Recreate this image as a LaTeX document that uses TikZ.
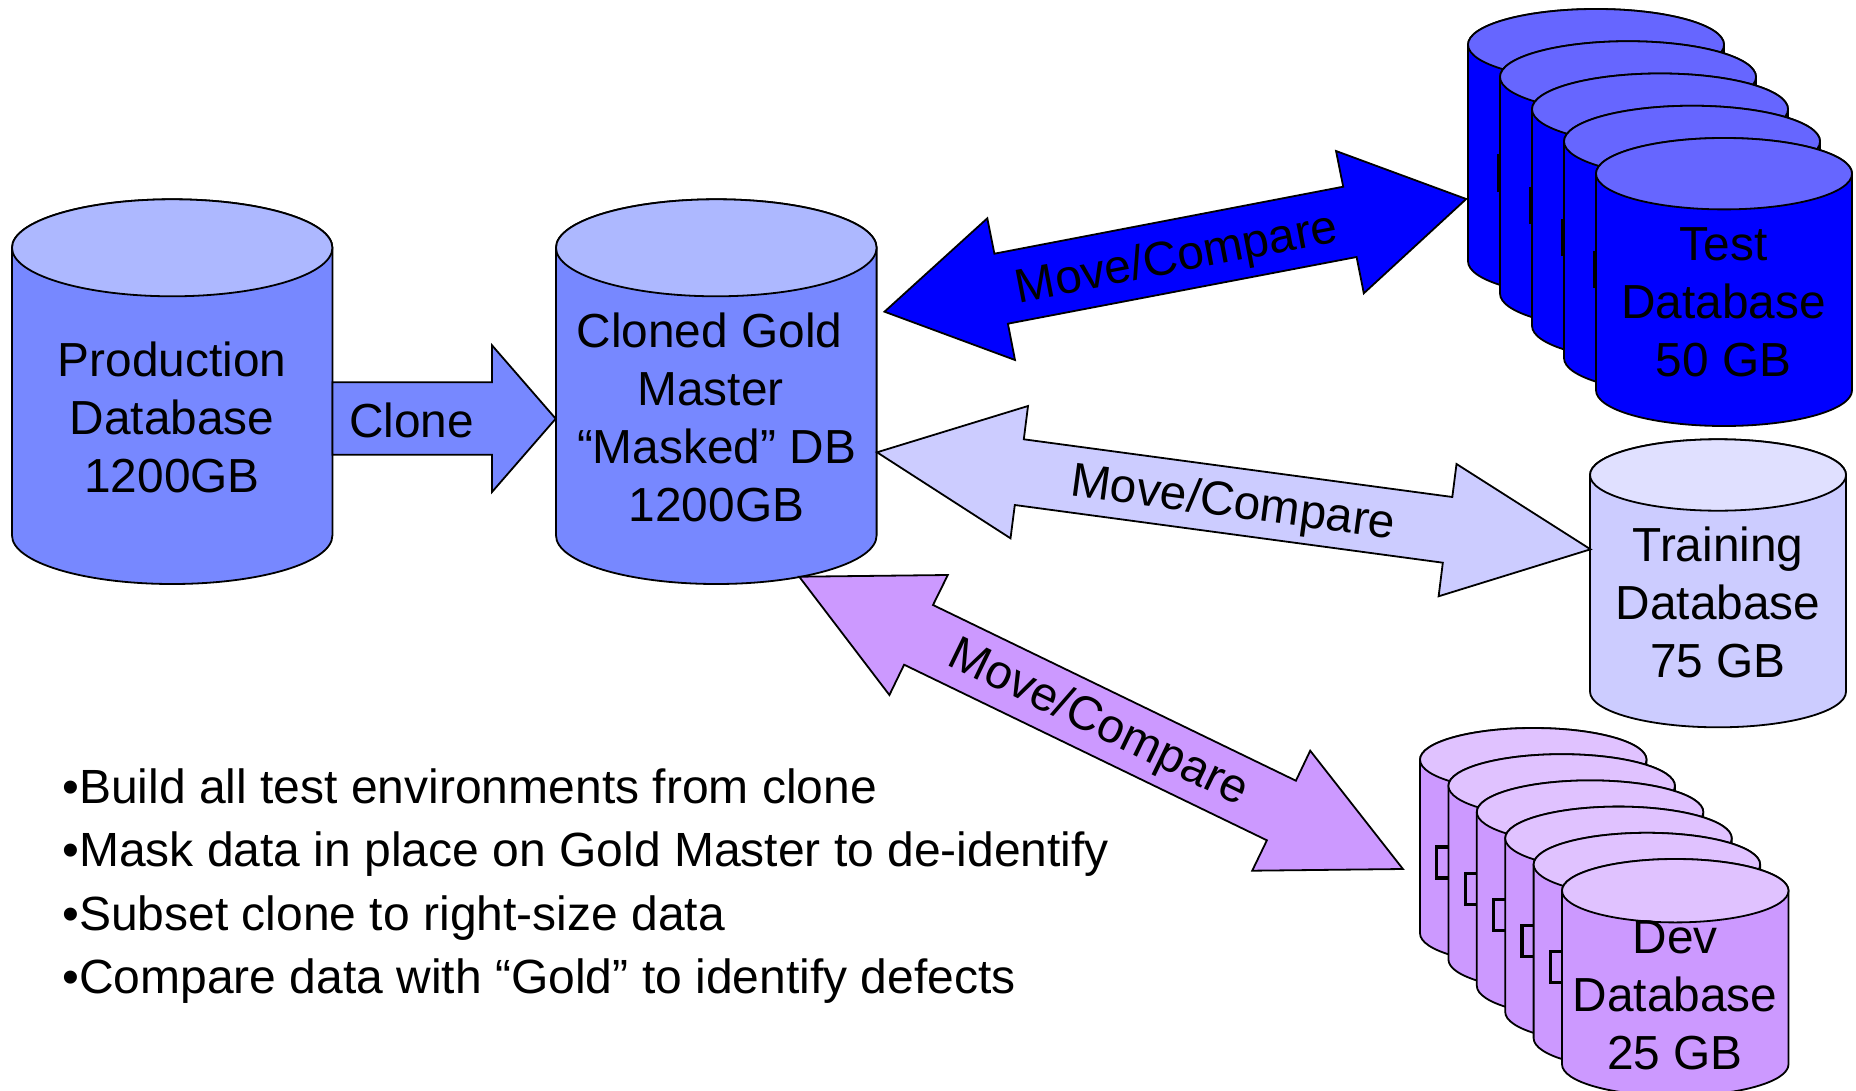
\documentclass[tikz,border=0pt]{standalone}
\usepackage{fontspec}
\setmainfont{Liberation Sans}
\definecolor{prodbody}{HTML}{7788FF}
\definecolor{prodtop}{HTML}{ADB8FF}
\definecolor{testbody}{HTML}{0000FF}
\definecolor{testtop}{HTML}{6666FF}
\definecolor{trainbody}{HTML}{CCCCFF}
\definecolor{traintop}{HTML}{E0E0FF}
\definecolor{devbody}{HTML}{CC99FF}
\definecolor{devtop}{HTML}{E0C2FF}
\tikzset{
  outline/.style={draw=black,line width=0.9pt,line join=miter},
  dblabel/.style={font=\fontsize{23.9pt}{29pt}\selectfont,align=center,inner sep=0pt,text=black},
  arrowlabel/.style={font=\fontsize{23.9pt}{29pt}\selectfont,inner sep=0pt,text=black},
  bulletlist/.style={font=\fontsize{24pt}{31.65pt}\selectfont,align=left,inner sep=0pt,text=black,anchor=north west},
  tofu/.style={draw=black,line width=1.6pt,fill=none}
}
% x, y(top), width, height, ry, body colour, top colour
\newcommand{\dbcyl}[7]{%
  \path[outline,fill=#6] ({#1},{#2+#5}) -- ({#1},{#2+#4-#5})
    arc[start angle=180,end angle=360,x radius={#3*0.25pt},y radius={#5*0.5pt}]
    -- ({#1+#3},{#2+#5})
    arc[start angle=0,end angle=180,x radius={#3*0.25pt},y radius={#5*0.5pt}] -- cycle;
  \path[outline,fill=#7] ({#1+#3/2},{#2+#5}) ellipse[x radius={#3*0.25pt},y radius={#5*0.5pt}];
}
\begin{document}
\begin{tikzpicture}[x=0.5pt,y=-0.5pt]
\useasboundingbox (0,0) rectangle (1856,1091);
\clip (0,0) rectangle (1856,1091);
% main cylinders
\dbcyl{12}{199.3}{320.4}{384.7}{48.5}{prodbody}{prodtop}
\dbcyl{556}{199.3}{320.6}{384.7}{48.5}{prodbody}{prodtop}
% test stack
\foreach \i in {0,...,4}{
  \dbcyl{1468+32*\i}{9+32.25*\i}{256}{288}{35.7}{testbody}{testtop}
  \ifnum\i<4
    \draw[tofu] ({1498.3+32*\i},{156+32.25*\i}) rectangle ({1520+32*\i},{190+32.25*\i});
  \fi
}
% training
\dbcyl{1590}{439.3}{256}{288}{35.7}{trainbody}{traintop}
% dev stack
\foreach \i in {0,...,5}{
  \dbcyl{1420+28.4*\i}{728+26.2*\i}{226.5}{237}{31.7}{devbody}{devtop}
  \ifnum\i<5
    \draw[tofu] ({1436.7+28.4*\i},{847+26.2*\i}) rectangle ({1465+28.4*\i},{878+26.2*\i});
  \fi
}
% block arrows
\path[outline,fill=prodbody] (332.4,382.3) -- (492,382.3) -- (492,345.3) -- (555.7,418.7) -- (492,492) -- (492,454.7) -- (332.4,454.7) -- cycle;
\path[outline,fill=testbody] (884.5,311.7) -- (987.3,218.3) -- (994.4,253.7) -- (1343.2,186.7) -- (1336,151) -- (1466.2,199) -- (1363.8,293.3) -- (1356.6,257) -- (1007.9,323.7) -- (1015,360) -- cycle;
\path[outline,fill=trainbody] (877,452.3) -- (1028,406) -- (1023.8,439.3) -- (1452.3,497) -- (1456.5,464) -- (1590.5,549.3) -- (1438.6,596.3) -- (1442.8,562.7) -- (1014.8,505) -- (1010.5,538.3) -- cycle;
\path[outline,fill=devbody] (799.2,576.7) -- (947.8,575) -- (933,605) -- (1295.9,780.7) -- (1310.2,750.7) -- (1402.9,869) -- (1252.2,870.7) -- (1266.9,840.3) -- (904.1,664.7) -- (889.4,695) -- cycle;
% labels
\node[dblabel] (prod) at (172,417) {Production\\Database\\1200GB};
\node[dblabel] (gold) at (716.5,417.5) {\mbox{Cloned Gold\kern7pt}\\\mbox{Master\kern6pt}\\“Masked” DB\\1200GB};
\node[dblabel] (test) at (1723.5,301.8) {Test\\Database\\50 GB};
\node[dblabel] (train) at (1718,602.5) {Training\\Database\\75 GB};
\node[dblabel] (dev) at (1675,995.5) {Dev\\Database\\25 GB};
\node[arrowlabel] (clone) at (411.5,420) {Clone};
\node[arrowlabel,rotate=10.9] (mc1) at (1177,260) {Move/Compare};
\node[arrowlabel,rotate=-7.67] (mc2) at (1233,505) {Move/Compare};
\node[arrowlabel,rotate=-25.8] (mc3) at (1098,724) {Move/Compare};
\node[bulletlist] (notes) at (62,768.5) {•Build all test environments from clone\\•Mask data in place on Gold Master to de-identify\\•Subset clone to right-size data\\•Compare data with “Gold” to identify defects};
\end{tikzpicture}
\end{document}
